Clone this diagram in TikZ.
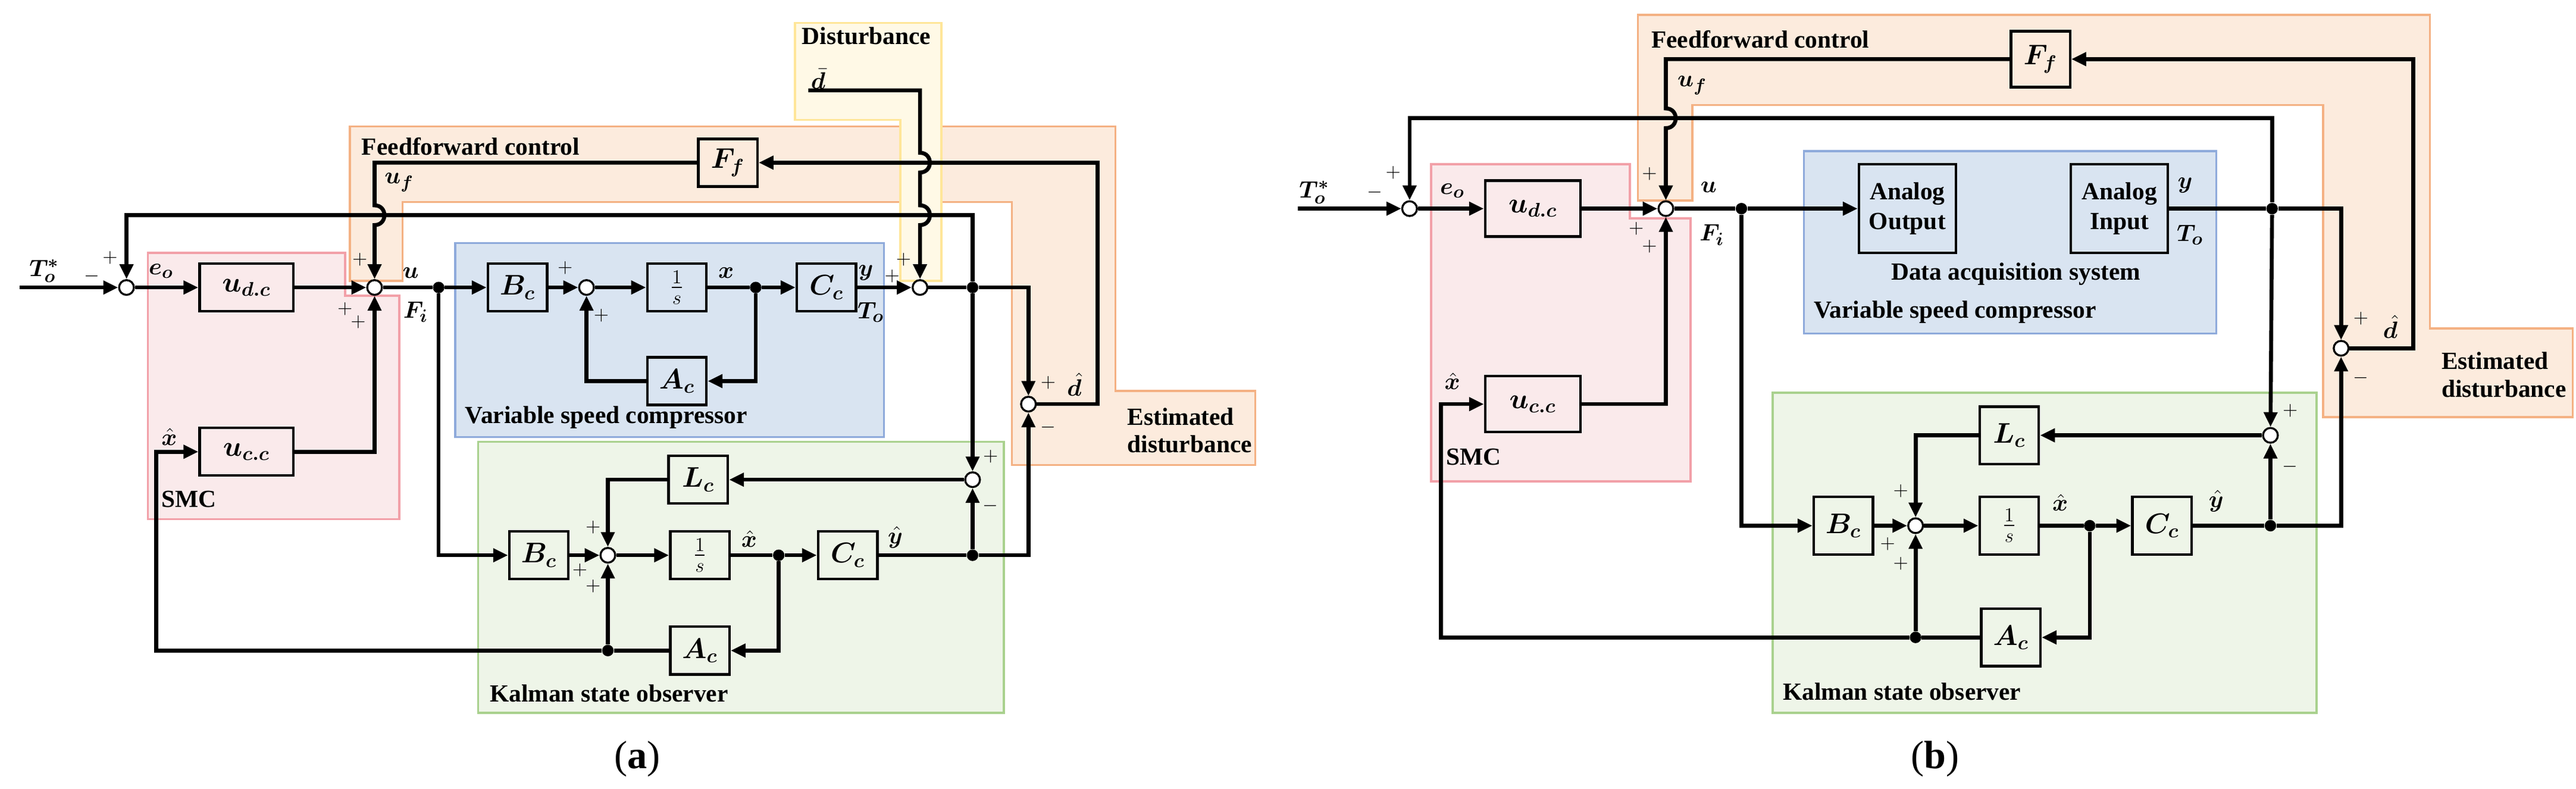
\documentclass[tikz,border=0pt]{standalone}
\usepackage{fontspec}
\setmainfont{Liberation Serif}
\usepackage{amsmath,bm}
\usetikzlibrary{arrows.meta}
\definecolor{pkF}{HTML}{FAEAEB}\definecolor{pkD}{HTML}{F2A0A8}
\definecolor{blF}{HTML}{D9E4F1}\definecolor{blD}{HTML}{8EAADB}
\definecolor{grF}{HTML}{EEF5E8}\definecolor{grD}{HTML}{A9D18E}
\definecolor{orF}{HTML}{FCEBDD}\definecolor{orD}{HTML}{F4B183}
\definecolor{ylF}{HTML}{FFF9E6}\definecolor{ylD}{HTML}{FFE699}
\begin{document}
\begin{tikzpicture}[x=1pt,y=-1pt,
 blk/.style={draw,line width=1.6pt,minimum width=36pt,minimum height=29pt,inner sep=0pt,font=\fontsize{17}{17}\selectfont},
 sum/.style={circle,draw,line width=1.2pt,fill=white,minimum size=9pt,inner sep=0pt},
 w/.style={line width=2.4pt},
 a/.style={w,-{Triangle[length=9pt,width=8pt]}},
 dot/.style={circle,fill,inner sep=0pt,minimum size=7pt},
 lab/.style={font=\bfseries\fontsize{15}{17}\selectfont,inner sep=0pt},
 ml/.style={font=\fontsize{15}{15}\selectfont,inner sep=0pt},
 sg/.style={font=\fontsize{12}{12}\selectfont,inner sep=0pt},
 reg/.style={line width=1.3pt}]
\useasboundingbox (0,0) rectangle (1568,480);
%% ---------------- (a) regions
\draw[reg,draw=orD,fill=orF] (213,77)--(679,77)--(679,238)--(764,238)--(764,283)--(616,283)--(616,123)--(245,123)--(245,171)--(213,171)--cycle;
\draw[reg,draw=ylD,fill=ylF] (484,14)--(573,14)--(573,171)--(548,171)--(548,73)--(484,73)--cycle;
\draw[reg,draw=pkD,fill=pkF] (90,154)--(210,154)--(210,180)--(243,180)--(243,316)--(90,316)--cycle;
\draw[reg,draw=blD,fill=blF] (277,148) rectangle (538,266);
\draw[reg,draw=grD,fill=grF] (291,269) rectangle (611,434);
\node[lab,anchor=west] at (220,89) {Feedforward control};
\node[lab,anchor=west] at (488,22) {Disturbance};
\node[lab,anchor=west] at (283,254) {Variable speed compressor};
\node[lab,anchor=west] at (298,422) {Kalman state observer};
\node[lab,anchor=west] at (98,304) {SMC};
\node[lab,anchor=west,align=left] at (686,262) {Estimated\\disturbance};
%% nodes
\coordinate (ain) at (12,175);
\node[sum] (a1) at (77,175) {};
\node[blk,minimum width=57pt] (audc) at (150,175) {$\bm{u_{d.c}}$};
\node[sum] (a2) at (228,175) {};
\node[dot] (ad1) at (267,175) {};
\node[blk] (aBc) at (315,175) {$\bm{B_c}$};
\node[sum] (a3) at (357,175) {};
\node[blk] (ais) at (412,175) {$\frac{1}{s}$};
\node[dot] (ad2) at (460,175) {};
\node[blk] (aCc) at (503,175) {$\bm{C_c}$};
\node[sum] (a4) at (560,175) {};
\node[dot] (ad3) at (592,175) {};
\node[sum] (a5) at (626,246) {};
\node[blk] (aAc) at (412,232) {$\bm{A_c}$};
\node[blk,minimum width=57pt] (aucc) at (150,275) {$\bm{u_{c.c}}$};
\node[blk] (aBo) at (328,338) {$\bm{B_c}$};
\node[sum] (a6) at (370,338) {};
\node[blk] (aio) at (426,338) {$\frac{1}{s}$};
\node[dot] (ad4) at (474,338) {};
\node[blk] (aCo) at (516,338) {$\bm{C_c}$};
\node[dot] (ad5) at (592,338) {};
\node[sum] (a7) at (592,292) {};
\node[blk] (aLc) at (425,292) {$\bm{L_c}$};
\node[blk] (aAo) at (426,396) {$\bm{A_c}$};
\node[dot] (ad6) at (370,396) {};
\node[blk] (aFf) at (443,99) {$\bm{F_f}$};
\coordinate (adist) at (492,55);
\coordinate (aR) at (668,99);
\coordinate (aL) at (95,396);
%% connectors
\draw[a] (ain)--(a1);
\draw[a] (a1)--(audc);
\draw[a] (audc)--(a2);
\draw[w] (a2)--(ad1); \draw[a] (ad1)--(aBc);
\draw[a] (aBc)--(a3); \draw[a] (a3)--(ais);
\draw[w] (ais)--(ad2); \draw[a] (ad2)--(aCc);
\draw[a] (aCc)--(a4);
\draw[w] (a4)--(ad3); \draw[a] (ad3)-|(a5);
\draw[a] (ad2)|-(aAc);
\draw[a] (aAc)-|(a3);
\draw[a] (aucc)-|(a2);
\draw[a] (ad1)|-(aBo);
\draw[a] (aBo)--(a6); \draw[a] (a6)--(aio); \draw[w] (aio)--(ad4); \draw[a] (ad4)--(aCo);
\draw[w] (aCo)--(ad5); \draw[a] (ad5)-|(a5);
\draw[a] (ad3)--(a7); \draw[a] (ad5)--(a7);
\draw[a] (a7)--(aLc);
\draw[a] (aLc)-|(a6);
\draw[a] (ad4)|-(aAo);
\draw[w] (aAo)--(ad6); \draw[a] (ad6)--(a6);
\draw[a] (ad6)--(aL)--(95,275)--(aucc);
\draw[a] (a5)-|(aR)--(aFf);
\draw[a] (aFf)-|(228,125) .. controls (236,125) and (236,137) .. (228,137)--(a2);
\draw[a] (ad3)--(592,131)-|(a1);
\draw[a] (adist)-|(560,93) .. controls (568,93) and (568,105) .. (560,105)--(560,125) .. controls (568,125) and (568,137) .. (560,137)--(a4);
%% labels
\node[ml] at (27,165) {$\bm{T_o^{*}}$};
\node[sg] at (67,157) {$+$}; \node[sg] at (56,168) {$-$};
\node[ml] at (98,165) {$\bm{e_o}$};
\node[ml] at (250,166) {$\bm{u}$}; \node[ml] at (253,190) {$\bm{F_i}$};
\node[ml] at (243,111) {$\bm{u_f}$};
\node[sg] at (219,158) {$+$}; \node[sg] at (210,188) {$+$}; \node[sg] at (218,196) {$+$};
\node[sg] at (344,163) {$+$}; \node[sg] at (366,192) {$+$};
\node[ml] at (442,166) {$\bm{x}$};
\node[ml] at (527,166) {$\bm{y}$}; \node[ml] at (530,190) {$\bm{T_o}$};
\node[sg] at (543,168) {$+$}; \node[sg] at (550,158) {$+$};
\node[ml] at (498,48) {$\bm{\bar d}$};
\node[sg] at (638,233) {$+$}; \node[sg] at (638,260) {$-$};
\node[ml] at (654,234) {$\bm{\hat d}$};
\node[ml] at (103,266) {$\bm{\hat x}$};
\node[sg] at (603,278) {$+$}; \node[sg] at (603,308) {$-$};
\node[sg] at (361,321) {$+$}; \node[sg] at (353,347) {$+$}; \node[sg] at (361,357) {$+$};
\node[ml] at (456,328) {$\bm{\hat x}$};
\node[ml] at (545,327) {$\bm{\hat y}$};
\node[font=\fontsize{24}{24}\selectfont] at (388,462) {(\textbf{a})};
%% ---------------- (b) regions
\draw[reg,draw=orD,fill=orF] (997,9)--(1479,9)--(1479,200)--(1566,200)--(1566,254)--(1414,254)--(1414,64)--(1030,64)--(1030,122)--(997,122)--cycle;
\draw[reg,draw=pkD,fill=pkF] (871,100)--(992,100)--(992,133)--(1029,133)--(1029,293)--(871,293)--cycle;
\draw[reg,draw=blD,fill=blF] (1098,92) rectangle (1349,203);
\draw[reg,draw=grD,fill=grF] (1079,239) rectangle (1410,434);
\node[lab,anchor=west] at (1005,24) {Feedforward control};
\node[lab] at (1227,167) {Data acquisition system};
\node[lab,anchor=west] at (1104,190) {Variable speed compressor};
\node[lab,anchor=west] at (1085,421) {Kalman state observer};
\node[lab,anchor=west] at (880,278) {SMC};
\node[lab,anchor=west,align=left] at (1486,228) {Estimated\\disturbance};
%% nodes
\coordinate (bin) at (790,127);
\node[sum] (b1) at (858,127) {};
\node[blk,minimum width=58pt,minimum height=34pt] (budc) at (933,127) {$\bm{u_{d.c}}$};
\node[sum] (b2) at (1014,127) {};
\node[dot] (bd1) at (1060,127) {};
\node[blk,minimum width=59pt,minimum height=54pt,font=\bfseries\fontsize{15}{18}\selectfont,align=center] (bAO) at (1161,127) {Analog\\Output};
\node[blk,minimum width=59pt,minimum height=54pt,font=\bfseries\fontsize{15}{18}\selectfont,align=center] (bAI) at (1290,127) {Analog\\Input};
\node[dot] (bd3) at (1383,127) {};
\node[sum] (b5) at (1425,212) {};
\node[blk,minimum width=58pt,minimum height=34pt] (bucc) at (933,246) {$\bm{u_{c.c}}$};
\node[blk,minimum height=35pt] (bBo) at (1122,320) {$\bm{B_c}$};
\node[sum] (b6) at (1166,320) {};
\node[blk,minimum height=35pt] (bio) at (1223,320) {$\frac{1}{s}$};
\node[dot] (bd4) at (1272,320) {};
\node[blk,minimum height=35pt] (bCo) at (1316,320) {$\bm{C_c}$};
\node[dot] (bd5) at (1382,320) {};
\node[sum] (b7) at (1382,265) {};
\node[blk,minimum height=35pt] (bLc) at (1223,265) {$\bm{L_c}$};
\node[blk,minimum height=35pt] (bAo) at (1224,388) {$\bm{A_c}$};
\node[dot] (bd6) at (1166,388) {};
\node[blk,minimum height=34pt] (bFf) at (1242,36) {$\bm{F_f}$};
\coordinate (bR) at (1469,36);
\coordinate (bL) at (877,388);
%% connectors
\draw[a] (bin)--(b1);
\draw[a] (b1)--(budc);
\draw[a] (budc)--(b2);
\draw[w] (b2)--(bd1); \draw[a] (bd1)--(bAO);
\draw[w] (bAI)--(bd3); \draw[a] (bd3)-|(b5);
\draw[a] (bucc)-|(b2);
\draw[a] (bd1)|-(bBo);
\draw[a] (bBo)--(b6); \draw[a] (b6)--(bio); \draw[w] (bio)--(bd4); \draw[a] (bd4)--(bCo);
\draw[w] (bCo)--(bd5); \draw[a] (bd5)-|(b5);
\draw[a] (bd3)--(b7); \draw[a] (bd5)--(b7);
\draw[a] (b7)--(bLc);
\draw[a] (bLc)-|(b6);
\draw[a] (bd4)|-(bAo);
\draw[w] (bAo)--(bd6); \draw[a] (bd6)--(b6);
\draw[a] (bd6)--(bL)--(877,246)--(bucc);
\draw[a] (b5)-|(bR)--(bFf);
\draw[a] (bFf)-|(1014,66) .. controls (1022,66) and (1022,78) .. (1014,78)--(b2);
\draw[a] (bd3)--(1383,72)-|(b1);
%% labels
\node[ml] at (800,117) {$\bm{T_o^{*}}$};
\node[sg] at (848,105) {$+$}; \node[sg] at (837,117) {$-$};
\node[ml] at (884,116) {$\bm{e_o}$};
\node[ml] at (1040,114) {$\bm{u}$}; \node[ml] at (1042,143) {$\bm{F_i}$};
\node[ml] at (1030,52) {$\bm{u_f}$};
\node[sg] at (1004,106) {$+$}; \node[sg] at (996,139) {$+$}; \node[sg] at (1004,150) {$+$};
\node[ml] at (1330,113) {$\bm{y}$}; \node[ml] at (1333,143) {$\bm{T_o}$};
\node[sg] at (1437,194) {$+$}; \node[sg] at (1437,230) {$-$};
\node[ml] at (1455,199) {$\bm{\hat d}$};
\node[ml] at (884,232) {$\bm{\hat x}$};
\node[sg] at (1394,250) {$+$}; \node[sg] at (1394,284) {$-$};
\node[sg] at (1157,299) {$+$}; \node[sg] at (1149,331) {$+$}; \node[sg] at (1157,343) {$+$};
\node[ml] at (1254,306) {$\bm{\hat x}$};
\node[ml] at (1349,305) {$\bm{\hat y}$};
\node[font=\fontsize{24}{24}\selectfont] at (1178,462) {(\textbf{b})};
\end{tikzpicture}
\end{document}
